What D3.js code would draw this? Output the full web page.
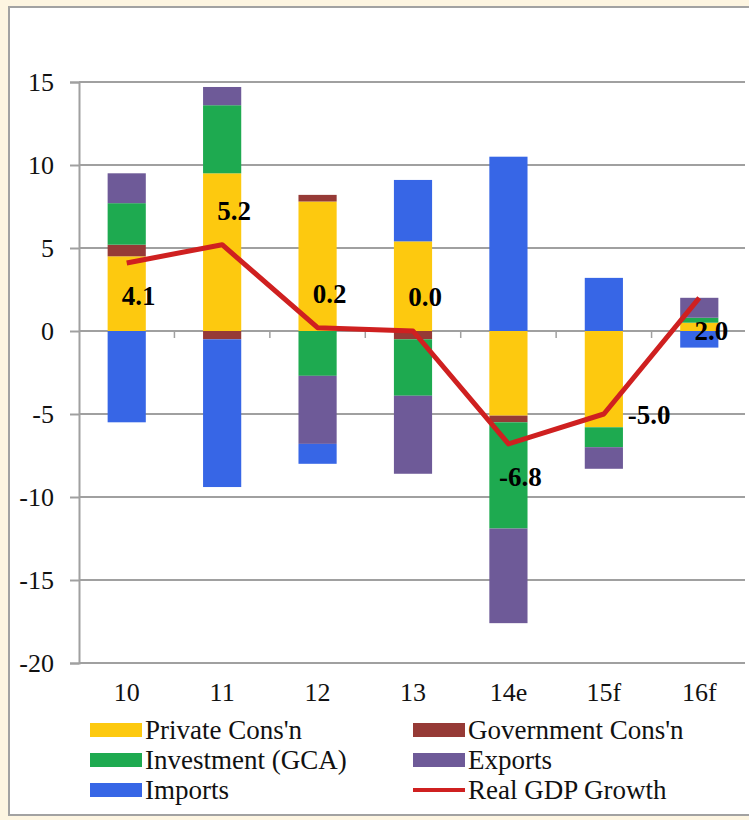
<!DOCTYPE html>
<html>
<head>
<meta charset="utf-8">
<script src="https://cdn.jsdelivr.net/npm/d3@7"></script>
<style>
  html, body { margin: 0; padding: 0; background: #fdf5e1; }
  svg { display: block; }
  text { font-family: "Liberation Serif", "Times New Roman", serif; fill: #111; }
</style>
</head>
<body>
<div id="chart"></div>
<script>
// values (percentage points)
const years = ["10", "11", "12", "13", "14e", "15f", "16f"];
const privateCons = [4.5, 9.5, 7.8, 5.4, -5.1, -5.8, 0.5];
const govCons     = [0.7, -0.5, 0.4, -0.5, -0.4, 0, 0];
const investment  = [2.5, 4.1, -2.7, -3.4, -6.4, -1.2, 0.3];
const exportsVal  = [1.8, 1.1, -4.1, -4.7, -5.7, -1.3, 1.2];
const importsVal  = [-5.5, -8.9, -1.2, 3.7, 10.5, 3.2, -1.0];
const gdpGrowth   = [4.1, 5.2, 0.2, 0.0, -6.8, -5.0, 2.0];
const labelSide   = ["below", "above", "above", "above", "below", "right", "below"];
const yTicks = [15, 10, 5, 0, -5, -10, -15, -20];

const seriesNames = ["Private Cons'n", "Government Cons'n", "Investment (GCA)", "Exports", "Imports"];
const seriesKeys = ["priv", "gov", "inv", "exp", "imp"];
const colors = {
  priv: "#fdc90f",
  gov: "#963a36",
  inv: "#1eaa50",
  exp: "#6e5a98",
  imp: "#3766e6"
};
const lineColor = "#cf2020";

// plain hyphen for negatives, like the original
const fmtInt = d => String(d);
const fmt1 = d => d.toFixed(1);

const rows = years.map((y, i) => ({
  year: y,
  priv: privateCons[i],
  gov: govCons[i],
  inv: investment[i],
  exp: exportsVal[i],
  imp: importsVal[i]
}));

const W = 749, H = 820;
const svg = d3.select("#chart").append("svg")
  .attr("width", W)
  .attr("height", H);

// outer panel
svg.append("rect")
  .attr("x", 9).attr("y", 7)
  .attr("width", W + 20).attr("height", 808)
  .attr("fill", "#fff")
  .attr("stroke", "#a2a2a2")
  .attr("stroke-width", 2);

const x = d3.scaleBand()
  .domain(years)
  .range([79, 747])
  .paddingInner(0.6)
  .paddingOuter(0.3);

const y = d3.scaleLinear()
  .domain([-20, 15])
  .range([663, 82]);

// grid lines + y axis
svg.append("g")
  .selectAll("line")
  .data(yTicks)
  .join("line")
  .attr("x1", 79).attr("x2", 745)
  .attr("y1", d => y(d)).attr("y2", d => y(d))
  .attr("stroke", "#a0a0a0")
  .attr("stroke-width", 2);

const yAxis = svg.append("g")
  .attr("transform", "translate(79,0)")
  .call(d3.axisLeft(y).tickValues(yTicks).tickSize(9).tickPadding(16).tickFormat(fmtInt));
yAxis.select(".domain").attr("stroke", "#a0a0a0").attr("stroke-width", 2);
yAxis.selectAll(".tick line").attr("stroke", "#a0a0a0").attr("stroke-width", 2);
yAxis.selectAll(".tick text")
  .attr("font-size", 26)
  .attr("fill", "#111");

// category ticks hanging below the zero line
const step = x.step();
svg.append("g")
  .selectAll("line")
  .data(d3.range(1, years.length))
  .join("line")
  .attr("x1", i => 79 + i * step).attr("x2", i => 79 + i * step)
  .attr("y1", y(0)).attr("y2", y(0) + 7)
  .attr("stroke", "#a0a0a0")
  .attr("stroke-width", 1.5);

// stacked bars (positives up, negatives down, in series order)
const stack = d3.stack()
  .keys(seriesKeys)
  .offset(d3.stackOffsetDiverging);
const layers = stack(rows);

svg.append("g")
  .selectAll("g")
  .data(layers)
  .join("g")
  .attr("fill", d => colors[d.key])
  .selectAll("rect")
  .data(d => d)
  .join("rect")
  .attr("x", d => x(d.data.year))
  .attr("width", x.bandwidth())
  .attr("y", d => y(Math.max(d[0], d[1])))
  .attr("height", d => Math.abs(y(d[0]) - y(d[1])));

// x labels
svg.append("g")
  .selectAll("text")
  .data(years)
  .join("text")
  .attr("x", d => x(d) + x.bandwidth() / 2)
  .attr("y", 701)
  .attr("text-anchor", "middle")
  .attr("font-size", 26)
  .text(d => d);

// GDP line
const cx = i => x(years[i]) + x.bandwidth() / 2;
const line = d3.line()
  .x((d, i) => cx(i))
  .y(d => y(d));

svg.append("path")
  .datum(gdpGrowth)
  .attr("d", line)
  .attr("fill", "none")
  .attr("stroke", lineColor)
  .attr("stroke-width", 5)
  .attr("stroke-linejoin", "round");

// data labels
svg.append("g")
  .selectAll("text")
  .data(gdpGrowth)
  .join("text")
  .attr("x", (d, i) => labelSide[i] === "right" ? cx(i) + 24 : cx(i) + 12)
  .attr("y", (d, i) => {
    if (labelSide[i] === "above") return y(d) - 25;
    if (labelSide[i] === "below") return y(d) + 42;
    return y(d) + 10;
  })
  .attr("text-anchor", (d, i) => labelSide[i] === "right" ? "start" : "middle")
  .attr("font-size", 27)
  .attr("font-weight", "bold")
  .style("fill", "#000")
  .text(d => fmt1(d));

// legend
const legendItems = [
  { name: seriesNames[0], key: "priv" },
  { name: seriesNames[1], key: "gov" },
  { name: seriesNames[2], key: "inv" },
  { name: seriesNames[3], key: "exp" },
  { name: seriesNames[4], key: "imp" },
  { name: "Real GDP Growth", key: "gdp" }
];
const legend = svg.append("g");
const lg = legend.selectAll("g")
  .data(legendItems)
  .join("g")
  .attr("transform", (d, i) => `translate(${i % 2 === 0 ? 90 : 413},${730 + Math.floor(i / 2) * 30})`);

lg.filter(d => d.key !== "gdp")
  .append("rect")
  .attr("x", 0).attr("y", -7)
  .attr("width", 52).attr("height", 14)
  .attr("fill", d => colors[d.key]);

lg.filter(d => d.key === "gdp")
  .append("line")
  .attr("x1", 0).attr("x2", 52)
  .attr("y1", 0).attr("y2", 0)
  .attr("stroke", lineColor)
  .attr("stroke-width", 4);

lg.append("text")
  .attr("x", 55)
  .attr("y", 9)
  .attr("font-size", 27)
  .text(d => d.name);
</script>
</body>
</html>
